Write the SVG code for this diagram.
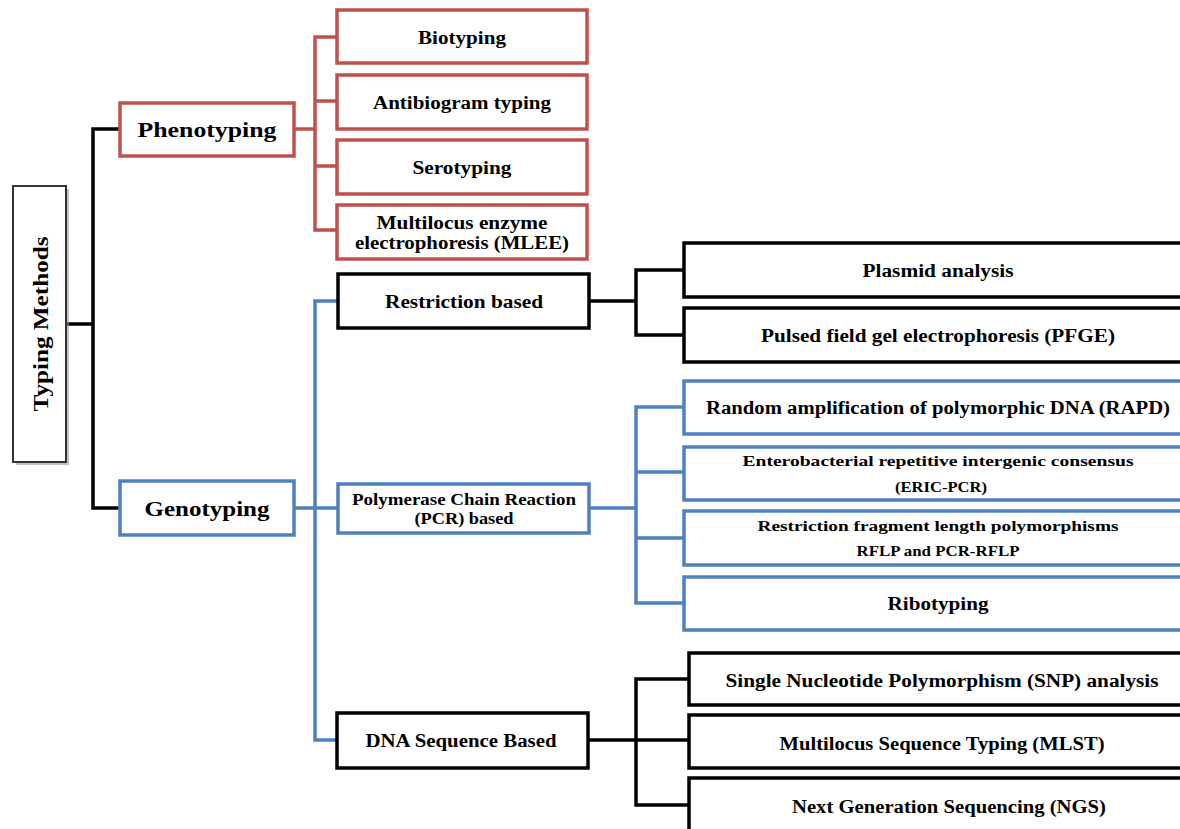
<svg xmlns="http://www.w3.org/2000/svg" width="1180" height="829" viewBox="0 0 1180 829">
<defs>
<style>
.box{fill:#fff;stroke-width:3.5}
.red{stroke:#C0504D}
.blue{stroke:#4F81BD}
.blk{stroke:#000}
.conn path{fill:none;stroke-width:3.5}
text{font-family:"Liberation Serif","DejaVu Serif",serif;font-weight:bold;fill:#000;text-anchor:middle}
.t18{font-size:18px}
.t16{font-size:16px}
.t15{font-size:15.5px}
.t22{font-size:22px}
</style>
</defs>
<rect width="1180" height="829" fill="#fff"/>
<g id="connectors" class="conn">
<path class="blk" stroke="#000" d="M67 324H93M120 129H93V508H120"/>
<path stroke="#C0504D" d="M294 129H315M337 37H315V230H337M315 101H337M315 166H337"/>
<path stroke="#4F81BD" d="M294 508H337M337 301H315V740H337"/>
<path stroke="#000" d="M589 301H636M684 270H636V335H684"/>
<path stroke="#4F81BD" d="M589 508H636M684 407H636V603H684M636 472H684M636 538H684"/>
<path stroke="#000" d="M588 740H689M689 679H636V805H689"/>
</g>
<g id="typing-methods">
<rect x="16" y="189" width="53" height="276" fill="#999" opacity="0.6"/>
<rect x="13" y="186" width="53" height="276" fill="#fff" stroke="#333" stroke-width="2"/>
<text class="t22" transform="translate(48,324) rotate(-90)" textLength="175" lengthAdjust="spacingAndGlyphs">Typing Methods</text>
</g>
<g id="phenotyping">
<rect class="box red" x="120" y="103" width="174" height="53"/>
<text class="t22" x="207" y="137" textLength="139" lengthAdjust="spacingAndGlyphs">Phenotyping</text>
</g>
<g id="genotyping">
<rect class="box blue" x="120" y="481" width="174" height="54"/>
<text class="t22" x="207" y="516" textLength="125" lengthAdjust="spacingAndGlyphs">Genotyping</text>
</g>
<g id="biotyping">
<rect class="box red" x="337" y="10" width="250" height="53"/>
<text class="t18" x="462" y="44" textLength="88" lengthAdjust="spacingAndGlyphs">Biotyping</text>
</g>
<g id="antibiogram">
<rect class="box red" x="337" y="75" width="250" height="54"/>
<text class="t18" x="462" y="109" textLength="178" lengthAdjust="spacingAndGlyphs">Antibiogram typing</text>
</g>
<g id="serotyping">
<rect class="box red" x="337" y="140" width="250" height="54"/>
<text class="t18" x="462" y="174" textLength="99" lengthAdjust="spacingAndGlyphs">Serotyping</text>
</g>
<g id="mlee">
<rect class="box red" x="337" y="205" width="250" height="54"/>
<text class="t18" x="462" y="229" textLength="171" lengthAdjust="spacingAndGlyphs">Multilocus enzyme</text>
<text class="t18" x="462" y="249" textLength="214" lengthAdjust="spacingAndGlyphs">electrophoresis (MLEE)</text>
</g>
<g id="restriction">
<rect class="box blk" x="338" y="274" width="251" height="54"/>
<text class="t18" x="464" y="308" textLength="158" lengthAdjust="spacingAndGlyphs">Restriction based</text>
</g>
<g id="pcr">
<rect class="box blue" x="338" y="484" width="251" height="49"/>
<text class="t16" x="464" y="505" textLength="224" lengthAdjust="spacingAndGlyphs">Polymerase Chain Reaction</text>
<text class="t16" x="464" y="524" textLength="99" lengthAdjust="spacingAndGlyphs">(PCR) based</text>
</g>
<g id="dna-sequence">
<rect class="box blk" x="337" y="713" width="251" height="55"/>
<text class="t18" x="461" y="747" textLength="191" lengthAdjust="spacingAndGlyphs">DNA Sequence Based</text>
</g>
<g id="plasmid">
<rect class="box blk" x="684" y="243" width="510" height="54"/>
<text class="t18" x="938" y="277" textLength="151" lengthAdjust="spacingAndGlyphs">Plasmid analysis</text>
</g>
<g id="pfge">
<rect class="box blk" x="684" y="308" width="510" height="54"/>
<text class="t18" x="938" y="342" textLength="354" lengthAdjust="spacingAndGlyphs">Pulsed field gel electrophoresis (PFGE)</text>
</g>
<g id="rapd">
<rect class="box blue" x="684" y="381" width="510" height="53"/>
<text class="t18" x="938" y="414" textLength="464" lengthAdjust="spacingAndGlyphs">Random amplification of polymorphic DNA (RAPD)</text>
</g>
<g id="eric">
<rect class="box blue" x="684" y="447" width="510" height="53"/>
<text class="t15" x="938" y="466" textLength="391" lengthAdjust="spacingAndGlyphs">Enterobacterial repetitive intergenic consensus</text>
<text class="t15" x="941" y="492" textLength="92" lengthAdjust="spacingAndGlyphs">(ERIC-PCR)</text>
</g>
<g id="rflp">
<rect class="box blue" x="684" y="511" width="510" height="54"/>
<text class="t15" x="938" y="531" textLength="361" lengthAdjust="spacingAndGlyphs">Restriction fragment length polymorphisms</text>
<text class="t15" x="938" y="556" textLength="163" lengthAdjust="spacingAndGlyphs">RFLP and PCR-RFLP</text>
</g>
<g id="ribotyping">
<rect class="box blue" x="684" y="577" width="510" height="53"/>
<text class="t18" x="938" y="610" textLength="101" lengthAdjust="spacingAndGlyphs">Ribotyping</text>
</g>
<g id="snp">
<rect class="box blk" x="689" y="653" width="505" height="52"/>
<text class="t18" x="942" y="687" textLength="433" lengthAdjust="spacingAndGlyphs">Single Nucleotide Polymorphism (SNP) analysis</text>
</g>
<g id="mlst">
<rect class="box blk" x="689" y="715" width="505" height="53"/>
<text class="t18" x="942" y="750" textLength="325" lengthAdjust="spacingAndGlyphs">Multilocus Sequence Typing (MLST)</text>
</g>
<g id="ngs">
<rect class="box blk" x="689" y="778" width="505" height="56"/>
<text class="t18" x="949" y="813" textLength="314" lengthAdjust="spacingAndGlyphs">Next Generation Sequencing (NGS)</text>
</g>
</svg>
